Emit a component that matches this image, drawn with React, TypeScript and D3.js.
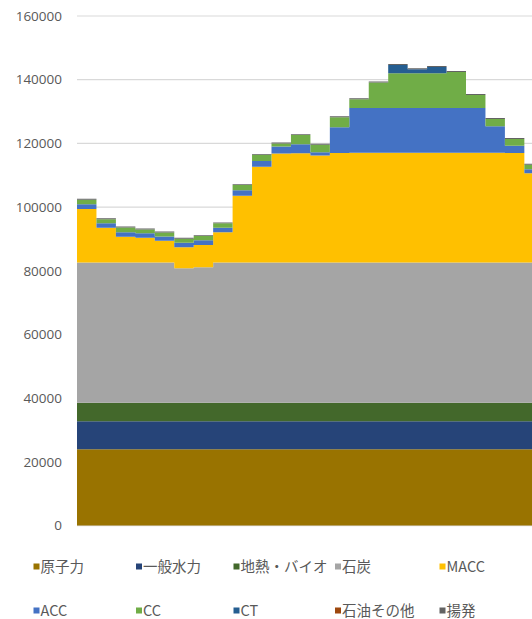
import React from "react";
import * as d3 from "d3";

const hours = [1,2,3,4,5,6,7,8,9,10,11,12,13,14,15,16,17,18,19,20,21,22,23,24];
const seriesNames = ["原子力","一般水力","地熱・バイオ","石炭","MACC","ACC","CC","CT","石油その他","揚発"];
const seriesColors = ["#997300","#264478","#43682B","#A5A5A5","#FFC000","#4472C4","#70AD47","#255E91","#9E480E","#636363"];

const nuclear = [24000,24000,24000,24000,24000,24000,24000,24000,24000,24000,24000,24000,24000,24000,24000,24000,24000,24000,24000,24000,24000,24000,24000,24000];
const hydro = [8800,8800,8800,8800,8800,8800,8800,8800,8800,8800,8800,8800,8800,8800,8800,8800,8800,8800,8800,8800,8800,8800,8800,8800];
const geoBio = [5800,5800,5800,5800,5800,5800,5800,5800,5800,5800,5800,5800,5800,5800,5800,5800,5800,5800,5800,5800,5800,5800,5800,5800];
const coal = [44000,44000,44000,44000,44000,42200,42500,44000,44000,44000,44000,44000,44000,44000,44000,44000,44000,44000,44000,44000,44000,44000,44000,44000];
const macc = [16800,10900,8100,7800,6800,6600,7000,9500,21000,30100,34200,34300,33600,34400,34500,34500,34500,34500,34500,34500,34500,34500,34400,28000];
const acc = [1500,1400,1400,1400,1400,1400,1500,1400,1700,1800,2200,2800,1000,8100,14000,14000,14000,14000,14000,14000,14000,8300,2300,1300];
const cc = [1400,1300,1500,1200,1200,1300,1300,1400,1600,1900,1000,2900,2400,3100,2800,8000,10900,10900,10900,11300,4100,2300,2100,1400];
const ct = [0,0,0,0,0,0,0,0,0,0,0,0,0,0,0,0,2600,1300,2000,0,0,0,0,0];
const oil = [0,0,0,0,0,0,0,0,0,0,0,0,0,0,0,0,0,0,0,0,0,0,0,0];
const pumped = [300,300,300,300,300,300,300,300,300,300,300,300,300,300,300,300,300,300,300,300,300,300,300,300];

const yTicks = [0,20000,40000,60000,80000,100000,120000,140000,160000];

const allSeries = [nuclear, hydro, geoBio, coal, macc, acc, cc, ct, oil, pumped];

export default function App() {
  const W = 532, H = 619;
  const left = 77, top = 16, bottom = 525.6;
  const step = 19.45;
  const x = d3.scaleLinear().domain([0, hours.length]).range([left, left + step * hours.length]);
  const y = d3.scaleLinear().domain([0, 160000]).range([bottom, top]);

  const rows = hours.map((h, i) => {
    const r: any = { i };
    seriesNames.forEach((n, k) => { r[n] = allSeries[k][i]; });
    return r;
  });
  // repeat the last hour so the step closes at the right edge
  const ext = [...rows, { ...rows[rows.length - 1], i: hours.length }];
  const stack = d3.stack<any>().keys(seriesNames)(ext);
  const area = d3.area<any>()
    .x((d: any) => x(d.data.i))
    .y0((d: any) => y(d[0]))
    .y1((d: any) => y(d[1]))
    .curve(d3.curveStepAfter);

  const legendCols = [33.5, 136, 233.5, 335, 439.5];
  const legendRows = [567, 611];

  return (
    <svg width={W} height={H} style={{ position: "absolute", left: 0, top: 0, background: "#fff" }}>
      {yTicks.map(t => (
        <g key={t}>
          <line x1={left} x2={W} y1={y(t)} y2={y(t)} stroke="#d9d9d9" strokeWidth={1.2} />
          <text x={62} y={y(t)} dy="0.35em" textAnchor="end" fontSize={13.5}
            fontFamily="'Open Sans', 'DejaVu Sans', sans-serif" fill="#595959">{t}</text>
        </g>
      ))}
      {stack.map((s, k) => (
        <path key={seriesNames[k]} d={area(s as any) || ""} fill={seriesColors[k]} />
      ))}
      {seriesNames.map((n, k) => {
        const col = k % 5, row = Math.floor(k / 5);
        const lx = legendCols[col], ly = legendRows[row];
        return (
          <g key={n}>
            <rect x={lx} y={ly - 3.5} width={6} height={6} fill={seriesColors[k]} />
            <text x={lx + 7} y={ly} dy="0.35em" fontSize={14.5}
              fontFamily="'Noto Sans CJK JP', 'Noto Sans', sans-serif" fill="#595959">{n}</text>
          </g>
        );
      })}
    </svg>
  );
}
